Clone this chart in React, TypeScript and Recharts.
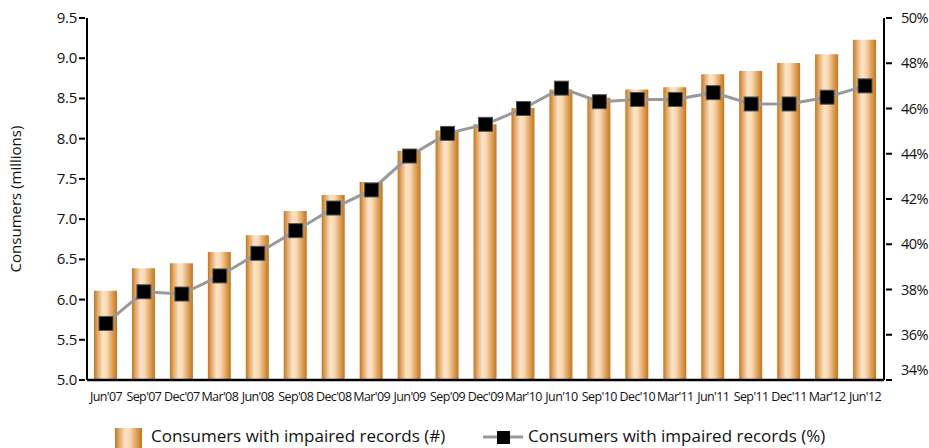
import React from 'react'
import {
  ComposedChart,
  Bar,
  Line,
  XAxis,
  YAxis,
  Legend,
} from 'recharts'

const quarters = [
  "Jun'07", "Sep'07", "Dec'07", "Mar'08", "Jun'08", "Sep'08", "Dec'08",
  "Mar'09", "Jun'09", "Sep'09", "Dec'09", "Mar'10", "Jun'10", "Sep'10",
  "Dec'10", "Mar'11", "Jun'11", "Sep'11", "Dec'11", "Mar'12", "Jun'12",
]

// millions of consumers
const impairedCount = [
  6.11, 6.39, 6.45, 6.59, 6.8, 7.1, 7.3, 7.46, 7.85, 8.1, 8.18,
  8.38, 8.61, 8.51, 8.61, 8.64, 8.8, 8.84, 8.94, 9.05, 9.23,
]

// share of consumers, %
const impairedShare = [
  36.5, 37.9, 37.8, 38.6, 39.6, 40.6, 41.6, 42.4, 43.9, 44.9, 45.3,
  46.0, 46.9, 46.3, 46.4, 46.4, 46.7, 46.2, 46.2, 46.5, 47.0,
]

const leftTicks = [5, 5.5, 6, 6.5, 7, 7.5, 8, 8.5, 9, 9.5]
const rightTicks = [34, 36, 38, 40, 42, 44, 46, 48, 50]

const data = quarters.map((q, i) => ({
  q,
  count: impairedCount[i],
  share: impairedShare[i],
}))

const FONT = '"Open Sans", "Noto Sans", sans-serif'

const LeftTick = (props: any) => {
  const { x, y, payload } = props
  return (
    <g>
      <line x1={x} x2={x + 6} y1={y} y2={y} stroke="#000" strokeWidth={2} />
      <text x={x - 2} y={y} dy={5} textAnchor="end" fontSize={15} fill="#111" fontFamily={FONT} letterSpacing={-0.3}>
        {payload.value.toFixed(1)}
      </text>
    </g>
  )
}

const RightTick = (props: any) => {
  const { x, y, payload } = props
  const shift = payload.value === 34 ? -10 : 0
  return (
    <g>
      <line x1={x - 6} x2={x} y1={y} y2={y} stroke="#000" strokeWidth={2} />
      <text x={x + 9} y={y + shift} dy={5} textAnchor="start" fontSize={14.5} fill="#111" fontFamily={FONT} letterSpacing={-0.6}>
        {payload.value}%
      </text>
    </g>
  )
}

const SquareDot = (props: any) => {
  const { cx, cy } = props
  if (cx == null || cy == null) return null
  return <rect x={cx - 7} y={cy - 7} width={14} height={14} fill="#000" stroke="#555" strokeWidth={1} />
}

const LegendBox = () => (
  <div style={{ position: 'relative', height: 24, fontFamily: FONT, fontSize: 17, color: '#111' }}>
    <svg width={929} height={24} style={{ position: 'absolute', left: 0, top: 0 }}>
      <rect x={115} y={4} width={27} height={20} fill="url(#barGrad)" />
      <line x1={483} x2={523} y1={13} y2={13} stroke="#999" strokeWidth={3} />
      <rect x={497} y={7} width={13} height={13} fill="#000" />
    </svg>
    <span style={{ position: 'absolute', left: 151, top: 0, whiteSpace: 'nowrap' }}>
      Consumers with impaired records (#)
    </span>
    <span style={{ position: 'absolute', left: 528, top: 0, whiteSpace: 'nowrap' }}>
      Consumers with impaired records (%)
    </span>
  </div>
)

export default function App() {
  return (
    <div style={{ position: 'absolute', left: 0, top: 0, background: '#fff' }}>
      <ComposedChart
        width={929}
        height={448}
        data={data}
        margin={{ top: 18, right: 0, bottom: 0, left: 0 }}
      >
        <defs>
          <linearGradient id="barGrad" x1="0" y1="0" x2="1" y2="0">
            <stop offset="0%" stopColor="#c2761f" />
            <stop offset="15%" stopColor="#dfa768" />
            <stop offset="38%" stopColor="#fde3c6" />
            <stop offset="55%" stopColor="#f9d9b4" />
            <stop offset="85%" stopColor="#d89548" />
            <stop offset="100%" stopColor="#c2761f" />
          </linearGradient>
        </defs>
        <XAxis
          dataKey="q"
          height={44}
          tickLine={false}
          interval={0}
          axisLine={{ stroke: '#000', strokeWidth: 2.5 }}
          tick={{ fontSize: 12.5, fill: '#111', fontFamily: FONT, letterSpacing: -0.6 }}
          tickMargin={6}
        />
        <YAxis
          yAxisId="left"
          width={87}
          domain={[5, 9.5]}
          ticks={leftTicks}
          interval={0}
          tickLine={false}
          axisLine={{ stroke: '#000', strokeWidth: 2 }}
          tick={<LeftTick />}
          label={{
            value: 'Consumers (millions)',
            angle: -90,
            position: 'insideLeft',
            offset: 16,
            style: { fontSize: 15, fill: '#111', fontFamily: FONT, textAnchor: 'middle' },
          }}
        />
        <YAxis
          yAxisId="right"
          orientation="right"
          width={45}
          domain={[34, 50]}
          ticks={rightTicks}
          interval={0}
          tickLine={false}
          axisLine={{ stroke: '#000', strokeWidth: 2 }}
          tick={<RightTick />}
        />
        <Legend verticalAlign="bottom" content={<LegendBox />} />
        <Bar
          yAxisId="left"
          dataKey="count"
          name="Consumers with impaired records (#)"
          fill="url(#barGrad)"
          barSize={23}
          isAnimationActive={false}
        />
        <Line
          yAxisId="right"
          dataKey="share"
          name="Consumers with impaired records (%)"
          type="linear"
          stroke="#999"
          strokeWidth={3}
          dot={<SquareDot />}
          activeDot={false}
          isAnimationActive={false}
        />
      </ComposedChart>
    </div>
  )
}
